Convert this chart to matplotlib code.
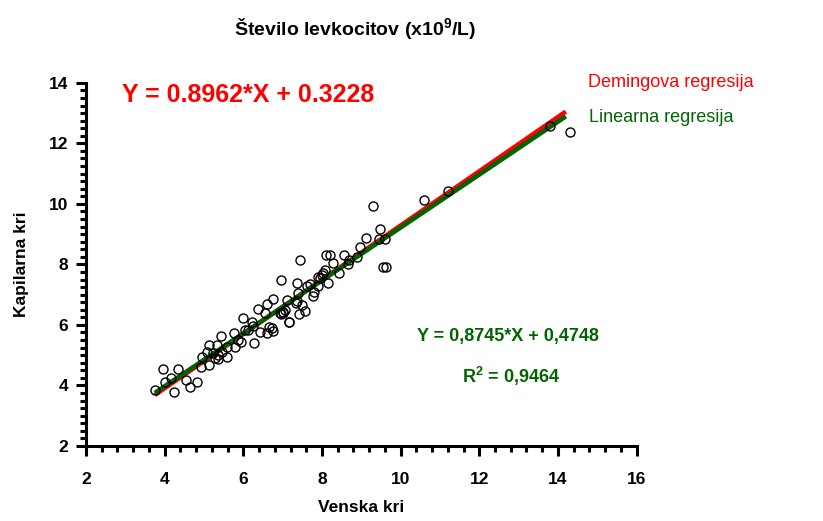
import numpy as np
import matplotlib
matplotlib.use("Agg")
import matplotlib.pyplot as plt
from matplotlib.ticker import MultipleLocator

plt.rcParams['font.family'] = ['Liberation Sans', 'DejaVu Sans']
plt.rcParams['mathtext.fontset'] = 'custom'
plt.rcParams['mathtext.rm'] = 'Liberation Sans'
plt.rcParams['mathtext.bf'] = 'Liberation Sans:bold'

# podatki (odcitani s slike)
venska = [3.75, 3.95, 4.02, 4.16, 4.23, 4.34, 4.53, 4.64, 4.81, 4.92,
          4.95, 5.07, 5.13, 5.12, 5.23, 5.28, 5.35, 5.36, 5.33, 5.43,
          5.46, 5.59, 5.59, 5.77, 5.78, 5.87, 5.93, 6.00, 6.05, 6.13,
          6.27, 6.22, 6.25, 6.38, 6.42, 6.55, 6.61, 6.60, 6.66, 6.74,
          6.76, 6.76, 6.93, 6.97, 6.97, 7.01, 7.01, 7.06, 7.10, 7.16,
          7.17, 7.33, 7.36, 7.37, 7.39, 7.42, 7.45, 7.48, 7.56, 7.62,
          7.69, 7.77, 7.80, 7.90, 7.90, 7.95, 8.01, 8.03, 8.07, 8.11,
          8.15, 8.20, 8.27, 8.43, 8.55, 8.65, 8.69, 8.89, 8.96, 9.11,
          9.30, 9.44, 9.47, 9.54, 9.61, 9.62, 10.60, 11.20, 13.79, 14.30]
kapilarna = [3.85, 4.55, 4.10, 4.23, 3.78, 4.56, 4.18, 3.96, 4.12, 4.62,
             4.95, 5.10, 5.35, 4.66, 5.07, 4.90, 4.87, 5.00, 5.34, 5.62,
             5.12, 4.95, 5.28, 5.73, 5.26, 5.50, 5.45, 6.22, 5.83, 5.83,
             5.40, 6.11, 5.95, 6.52, 5.78, 6.41, 6.68, 5.72, 5.92, 5.90,
             5.80, 6.87, 6.41, 7.49, 6.36, 6.41, 6.44, 6.50, 6.83, 6.11,
             6.10, 6.72, 7.40, 6.79, 7.05, 6.36, 8.13, 6.66, 6.47, 7.27,
             7.35, 6.96, 7.10, 7.27, 7.58, 7.56, 7.65, 7.71, 7.82, 8.30,
             7.40, 8.30, 8.06, 7.71, 8.30, 8.02, 8.15, 8.23, 8.57, 8.87,
             9.94, 8.84, 9.16, 7.91, 8.84, 7.91, 10.13, 10.41, 12.56, 12.36]

# regresijski premici
deming_k, deming_n = 0.8962, 0.3228
lin_k, lin_n = 0.8745, 0.4748
x_od, x_do = 3.75, 14.2

fig = plt.figure(figsize=(8.23, 5.21), dpi=100)
ax = fig.add_axes([0.1045, 0.144, 0.669, 0.697])

x_line = np.array([x_od, x_do])
ax.plot(x_line, deming_k * x_line + deming_n, color='#ff0000', lw=3.3, solid_capstyle='butt', zorder=2)
ax.plot(x_line, lin_k * x_line + lin_n, color='#006400', lw=3.3, solid_capstyle='butt', zorder=3)
ax.plot(venska, kapilarna, 'o', mfc='none', mec='black', mew=1, ms=6.5, zorder=4)

ax.set_xlim(2, 16)
ax.set_ylim(2, 14)
ax.xaxis.set_major_locator(MultipleLocator(2))
ax.xaxis.set_minor_locator(MultipleLocator(0.4))
ax.yaxis.set_major_locator(MultipleLocator(2))
ax.yaxis.set_minor_locator(MultipleLocator(0.25))

for s in ['top', 'right']:
    ax.spines[s].set_visible(False)
for s in ['left', 'bottom']:
    ax.spines[s].set_linewidth(2.2)
ax.tick_params(which='major', direction='out', length=7, width=2.2, labelsize=12.5)
ax.tick_params(axis='x', which='major', pad=12)
ax.tick_params(axis='y', which='major', pad=6)
ax.tick_params(which='minor', direction='out', length=4, width=2.2)
for lab in ax.get_xticklabels() + ax.get_yticklabels():
    lab.set_fontweight('bold')

ax.set_xlabel('Venska kri', fontsize=12.5, fontweight='bold', labelpad=9)
ax.set_ylabel('Kapilarna kri', fontsize=12.5, fontweight='bold', labelpad=14)

fig.text(0.431, 0.942, r'Število levkocitov (x10$^{\mathbf{9}}$/L)', fontsize=14,
         fontweight='bold', ha='center', va='center')

fig.text(0.148, 0.817, 'Y = 0.8962*X + 0.3228', fontsize=18, fontweight='bold',
         color='#ff0000', ha='left', va='center')
fig.text(0.714, 0.842, 'Demingova regresija', fontsize=13, color='#ff0000',
         ha='left', va='center')
fig.text(0.716, 0.775, 'Linearna regresija', fontsize=13, color='#006400',
         ha='left', va='center')

fig.text(0.617, 0.355, 'Y = 0,8745*X + 0,4748', fontsize=13, fontweight='bold',
         color='#006400', ha='center', va='center')
fig.text(0.621, 0.278, r'R$^{\mathbf{2}}$ = 0,9464', fontsize=13, fontweight='bold',
         color='#006400', ha='center', va='center')

fig.savefig('out.png', dpi=100)
